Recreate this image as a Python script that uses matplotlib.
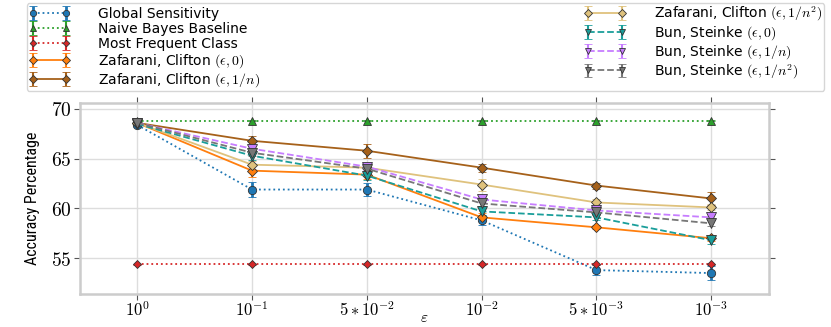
import matplotlib
matplotlib.use("Agg")
import matplotlib.pyplot as plt
from matplotlib import font_manager
import numpy as np

plt.rcParams['mathtext.fontset'] = 'cm'
plt.rcParams['font.family'] = ['DejaVu Sans']

_names = {f.name for f in font_manager.fontManager.ttflist}
narrow = [n for n in ['Liberation Sans Narrow', 'DejaVu Sans Condensed', 'Roboto Condensed'] if n in _names]

xlabels = [r'$10^{0}$', r'$10^{-1}$', r'$5*10^{-2}$', r'$10^{-2}$', r'$5*10^{-3}$', r'$10^{-3}$']

global_sens = [68.4, 61.9, 61.9, 58.8, 53.8, 53.5]
global_err = [0.2, 0.8, 0.7, 0.5, 0.5, 0.7]
naive_bayes = [68.8, 68.8, 68.8, 68.8, 68.8, 68.8]
most_freq = [54.4, 54.4, 54.4, 54.4, 54.4, 54.4]
zc_0 = [68.6, 63.8, 63.4, 59.1, 58.1, 57.0]
zc_0_err = [0.2, 0.6, 0.4, 0.4, 0.2, 0.3]
zc_n = [68.6, 66.8, 65.8, 64.1, 62.3, 61.0]
zc_n_err = [0.2, 0.5, 0.7, 0.4, 0.3, 0.7]
zc_n2 = [68.6, 64.4, 64.1, 62.4, 60.6, 60.1]
zc_n2_err = [0.2, 0.4, 0.4, 0.6, 0.3, 0.3]
bs_0 = [68.5, 65.3, 63.3, 59.7, 59.1, 56.8]
bs_0_err = [0.2, 0.4, 0.4, 0.4, 0.3, 0.4]
bs_n = [68.6, 66.0, 64.2, 60.9, 59.8, 59.1]
bs_n_err = [0.2, 0.3, 0.3, 0.3, 0.3, 0.3]
bs_n2 = [68.6, 65.6, 64.0, 60.5, 59.6, 58.5]
bs_n2_err = [0.2, 0.3, 0.3, 0.3, 0.3, 0.3]

x = np.arange(len(xlabels))

fig = plt.figure(figsize=(8.31, 3.27), dpi=100)
ax = fig.add_axes([0.096, 0.101, 0.829, 0.584])

series = [
    ("Global Sensitivity", global_sens, global_err, '#1f77b4', 'o', ':', 6),
    ("Naive Bayes Baseline", naive_bayes, None, '#2ca02c', '^', ':', 6),
    ("Most Frequent Class", most_freq, None, '#d62728', 'D', ':', 4.5),
    (r"Zafarani, Clifton $(\epsilon,0)$", zc_0, zc_0_err, '#ff7f0e', 'D', '-', 5),
    (r"Zafarani, Clifton $(\epsilon,1/n)$", zc_n, zc_n_err, '#a6611a', 'D', '-', 5),
    (r"Zafarani, Clifton $(\epsilon,1/n^2)$", zc_n2, zc_n2_err, '#dfc27d', 'D', '-', 5),
    (r"Bun, Steinke $(\epsilon,0)$", bs_0, bs_0_err, '#1a9e9a', 'v', '--', 6.5),
    (r"Bun, Steinke $(\epsilon,1/n)$", bs_n, bs_n_err, '#c77dff', 'v', '--', 6.5),
    (r"Bun, Steinke $(\epsilon,1/n^2)$", bs_n2, bs_n2_err, '#777777', 'v', '--', 6.5),
]

for label, y, err, c, m, ls, ms in series:
    ax.errorbar(x, y, yerr=(err if err is not None else np.zeros(len(y)) + 0.05),
                color=c, marker=m, ls=ls, lw=1.3, ms=ms, mec='#333333', mew=0.6,
                capsize=3, elinewidth=2 if label.startswith("Global") else 1.5,
                label=label)

ax.set_xlim(-0.5, 5.5)
ax.set_ylim(51.4, 70.6)
ax.set_xticks(x)
ax.set_xticklabels(xlabels, fontsize=12)
ax.set_yticks([55, 60, 65, 70])
ax.set_yticklabels([r'$55$', r'$60$', r'$65$', r'$70$'], fontsize=14)
ax.grid(True, color='#dddddd', lw=1)
ax.set_axisbelow(True)
for s in ax.spines.values():
    s.set_color('#cccccc')
    s.set_linewidth(1.8)
ax.tick_params(which='both', direction='out', length=4, color='#555555',
               top=True, right=True, pad=2)
ax.tick_params(axis='x', pad=1)
ax.set_xlabel(r'$\varepsilon$', fontsize=11, labelpad=-7)
ax.set_ylabel('Accuracy Percentage', fontsize=11.5,
              family=narrow + ['DejaVu Sans'], labelpad=8)

handles, labels = ax.get_legend_handles_labels()
fig.legend(handles, labels, loc='upper left', ncol=2, mode='expand',
           bbox_to_anchor=(0.032, 0.725, 0.96, 0.266), fontsize=10,
           labelspacing=0.08, borderaxespad=0, frameon=True, borderpad=0.15,
           edgecolor='#cccccc', fancybox=True, handlelength=3.0, handletextpad=2.0,
           numpoints=2, markerscale=0.75)

fig.savefig('out.png', dpi=100)
